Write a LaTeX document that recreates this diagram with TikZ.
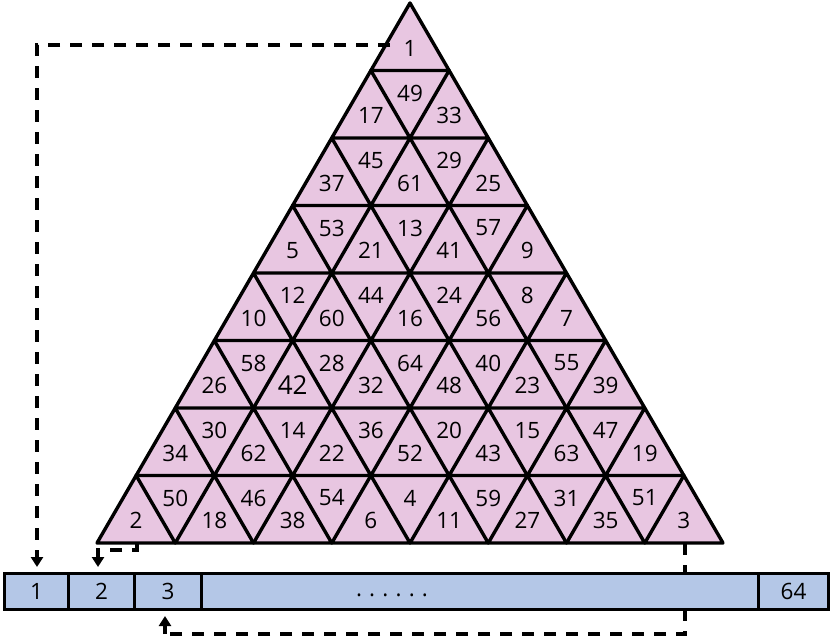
\documentclass[tikz,border=0pt]{standalone}
\usepackage{fontspec}
\setmainfont{Open Sans}
\usetikzlibrary{arrows.meta}
\definecolor{trifill}{RGB}{232,198,225}
\definecolor{barblue}{RGB}{180,199,231}
\begin{document}
\begin{tikzpicture}[x=1pt,y=-1pt,
  lab/.style={font=\fontsize{22.5}{24}\selectfont, inner sep=0pt},
  tri/.style={draw=black, line width=3.4pt, line join=round},
  cell/.style={draw=black, line width=3pt, fill=barblue, anchor=north west,
    minimum height=36pt, inner sep=0pt, font=\fontsize{22.5}{24}\selectfont},
  link/.style={draw=black, line width=3.2pt, dash pattern=on 12pt off 10pt},
  tip/.style={-{Triangle[width=12pt,length=10pt]}, shorten >=5pt}
]
\useasboundingbox (0,0) rectangle (830,638);

% big triangle fill
\fill[trifill] (410,3) -- (96.75,543) -- (723.25,543) -- cycle;
% outlines of all upward triangles (covers every edge once)
\foreach \r in {0,...,7} {
  \foreach \k in {0,...,\r} {
    \pgfmathsetmacro\ax{410-\r*39.125+\k*78.25}
    \pgfmathsetmacro\ty{3+\r*67.5}
    \pgfmathsetmacro\by{\ty+67.5}
    \draw[tri] (\ax,\ty) -- (\ax-39.125,\by) -- (\ax+39.125,\by) -- cycle;
  }
}
% labels
\foreach \r/\labs in {0/{1},1/{17,49,33},2/{37,45,61,29,25},
  3/{5,53,21,13,41,57,9},4/{10,12,60,44,16,24,56,8,7},
  5/{26,58,42,28,32,64,48,40,23,55,39},
  6/{34,30,62,14,22,36,52,20,43,15,63,47,19},
  7/{2,50,18,46,38,54,6,4,11,59,27,31,35,51,3}} {
  \foreach \l [count=\i from 0] in \labs {
    \pgfmathsetmacro\cx{410-\r*39.125+\i*39.125}
    \ifodd\i
      \pgfmathsetmacro\cy{3+\r*67.5+22.5}
    \else
      \pgfmathsetmacro\cy{3+\r*67.5+45}
    \fi
    \pgfmathsetmacro\fs{\l==42 ? 26 : 22.5}
    \node[lab, font=\fontsize{\fs}{\fs}\selectfont] (n\l) at (\cx,\cy) {\l};
  }
}

% connector end points
\coordinate (s1) at (390,45);
\coordinate (m1) at (37,45);
\coordinate (s2) at (137,543);
\coordinate (m2) at (98,550);
\coordinate (s3) at (685,543);
\coordinate (m3) at (685,634);
\coordinate (e3) at (165,634);

% dashed connector passing behind the bar
\draw[link] (s3) -- (m3) -- (e3);

% bar
\node[cell, minimum width=64pt] (c1) at (3,572) {1};
\node[cell, minimum width=66pt] (c2) at (67,572) {2};
\node[cell, minimum width=67pt] (c3) at (133,572) {3};
\node[cell, minimum width=557pt] (cd) at (200,572) {};
\node[cell, minimum width=70pt] (c64) at (757,572) {64};
\node[lab, anchor=base, font=\fontsize{22.5}{24}\selectfont\addfontfeature{LetterSpace=32}] (dots) at (392,596) {......};

\draw[link, tip] (s1) -- (m1) -- (m1 |- c1.north);
\draw[link, tip] (s2) |- (m2) -- (m2 |- c2.north);
\draw[link, tip] (e3) -- (e3 |- c3.south);
\end{tikzpicture}
\end{document}
